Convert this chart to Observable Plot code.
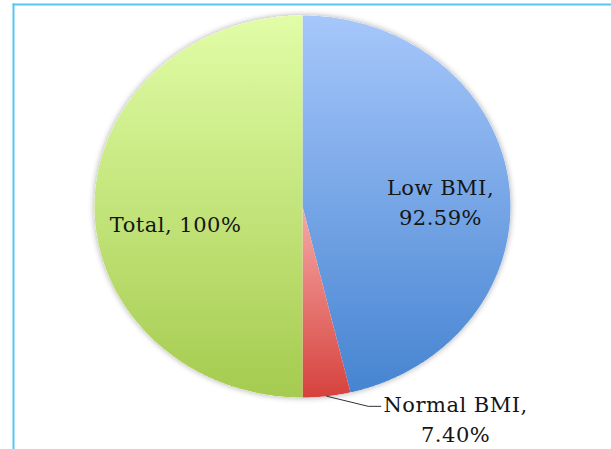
<!DOCTYPE html>
<html>
<head>
<meta charset="utf-8">
<script src="https://cdn.jsdelivr.net/npm/d3@7"></script>
<script src="https://cdn.jsdelivr.net/npm/@observablehq/plot@0.6"></script>
<style>
  html, body { margin: 0; padding: 0; background: #fff; }
  svg text { letter-spacing: 0.5px; }
</style>
</head>
<body>
<div id="chart"></div>
<script>
// ---- data ----
const categories = ["Low BMI", "Normal BMI", "Total"];
const values = [92.59, 7.40, 100];
const valueLabels = ["92.59%", "7.40%", "100%"];

// ---- styling (not data) ----
const gradients = {
  "Low BMI": ["#a6c7fb", "#4684d1"],
  "Normal BMI": ["#f6aaa8", "#d6423d"],
  "Total": ["#e1fda7", "#a5cb4f"]
};

const pie = d3.pie().sort(null).value(d => d.value);
const arcs = pie(categories.map((c, i) => ({ name: c, value: values[i], label: valueLabels[i] })));

// polygon points for each wedge in unit coordinates (y up, angle clockwise from top)
function wedge(a) {
  const pts = [{ x: 0, y: 0 }];
  const n = Math.max(8, Math.ceil((a.endAngle - a.startAngle) / 0.01));
  for (let k = 0; k <= n; k++) {
    const t = a.startAngle + (a.endAngle - a.startAngle) * k / n;
    pts.push({ x: Math.sin(t), y: Math.cos(t) });
  }
  pts.push({ x: 0, y: 0 });
  return pts;
}

const gradId = name => "grad-" + name.replace(/\s+/g, "");

const defsMark = () => {
  const ns = "http://www.w3.org/2000/svg";
  const defs = document.createElementNS(ns, "defs");
  let html = "";
  for (const [name, [c0, c1]] of Object.entries(gradients)) {
    html += `<linearGradient id="${gradId(name)}" x1="0" y1="0" x2="0" y2="1">
      <stop offset="0" stop-color="${c0}"/><stop offset="1" stop-color="${c1}"/></linearGradient>`;
  }
  html += `<filter id="pieShadow" x="-10%" y="-10%" width="120%" height="120%">
      <feGaussianBlur in="SourceAlpha" stdDeviation="3"/>
      <feComponentTransfer><feFuncA type="linear" slope="0.35"/></feComponentTransfer>
      <feMerge><feMergeNode/><feMergeNode in="SourceGraphic"/></feMerge></filter>`;
  defs.innerHTML = html;
  return defs;
};

// label placement from each slice's mid-angle
const labelData = [];
const leader = [];
arcs.forEach(a => {
  const mid = (a.startAngle + a.endAngle) / 2;
  const name = a.data.name;
  const ex = Math.sin(mid), ey = Math.cos(mid);
  if (name === "Normal BMI") {
    leader.push({ x: ex, y: ey }, { x: ex + 0.2, y: ey - 0.053 }, { x: ex + 0.26, y: ey - 0.053 });
    labelData.push({ x: ex + 0.62, y: ey - 0.112, text: name + ",\n" + a.data.label });
  } else if (name === "Total") {
    labelData.push({ x: ex * 0.61, y: ey * 0.61 - 0.084, text: name + ", " + a.data.label });
  } else {
    labelData.push({ x: ex * 0.668, y: ey * 0.668 - 0.046, text: name + ",\n" + a.data.label });
  }
});

const sliceMarks = arcs.map(a =>
  Plot.line(wedge(a), {
    x: "x", y: "y",
    fill: `url(#${gradId(a.data.name)})`,
    stroke: "none",
    curve: "linear"
  })
);

const chart = Plot.plot({
  width: 611,
  height: 449,
  marginTop: 4,
  marginLeft: 13,
  marginRight: 0,
  marginBottom: 0,
  x: { domain: [-1, 1], range: [94, 510], axis: null },
  y: { domain: [-1, 1], range: [397, 15], axis: null },
  style: { background: "#fff", overflow: "visible" },
  marks: [
    defsMark,
    Plot.frame({ anchor: "top", stroke: "#56c6f3", strokeWidth: 2 }),
    Plot.frame({ anchor: "left", stroke: "#56c6f3", strokeWidth: 2 }),
    Plot.line(wedge({ startAngle: 0, endAngle: 2 * Math.PI }), {
      x: "x", y: "y", fill: "#fff", stroke: "none"
    }),
    ...sliceMarks,
    Plot.line(leader, { x: "x", y: "y", stroke: "#333", strokeWidth: 1 }),
    Plot.text(labelData, {
      x: "x", y: "y", text: "text",
      fontFamily: "DejaVu Serif",
      fontSize: 21,
      lineHeight: 1.43,
      fill: "#151515",
      textAnchor: "middle"
    })
  ]
});

// shadow under the pie outline
const firstLine = chart.querySelectorAll("g[aria-label='line']")[0];
if (firstLine) firstLine.setAttribute("filter", "url(#pieShadow)");

document.getElementById("chart").appendChild(chart);
</script>
</body>
</html>
